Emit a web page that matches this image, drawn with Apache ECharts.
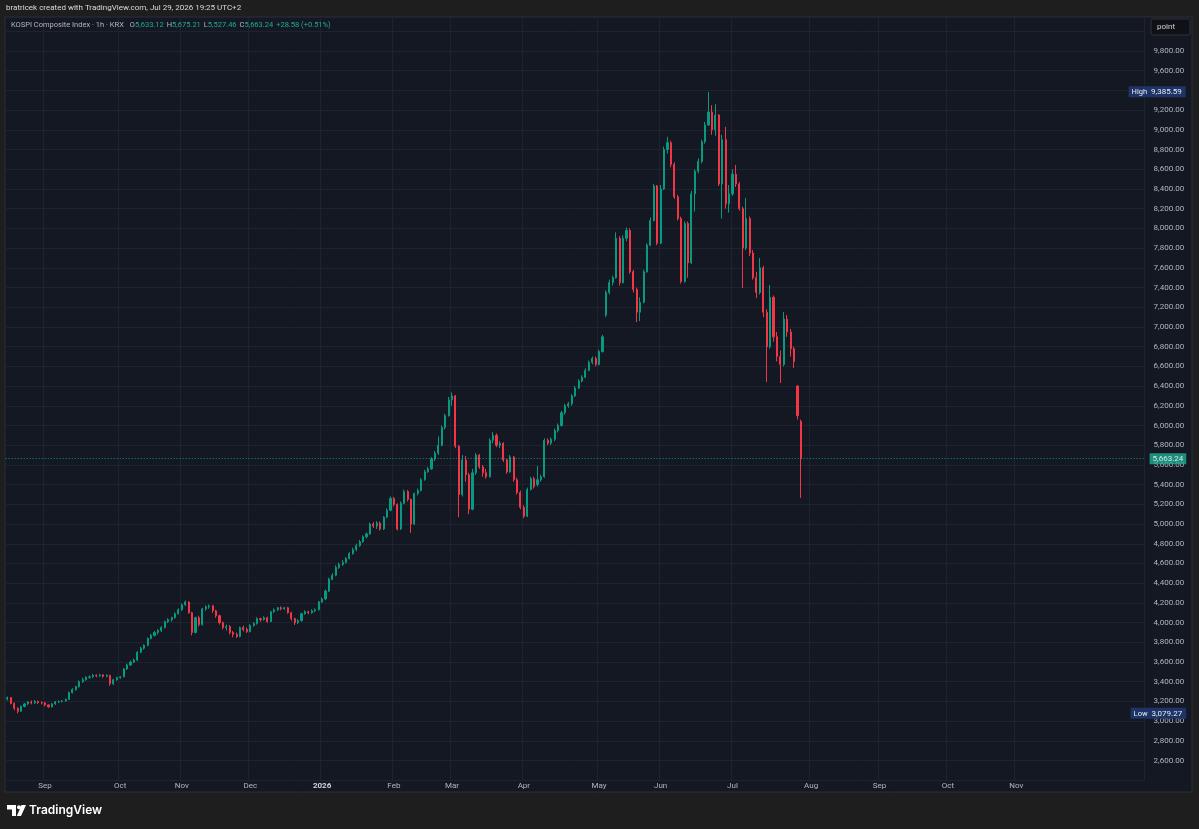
<!DOCTYPE html>
<html>
<head>
<meta charset="utf-8">
<script src="https://cdn.jsdelivr.net/npm/echarts@6.0.0/dist/echarts.min.js"></script>
<style>
html,body{margin:0;padding:0;background:#1e1e1e;}
#chart{width:1199px;height:829px;}
</style>
</head>
<body>
<div id="chart"></div>
<script>
// ---------- DATA ----------
const startDate = '2025-08-14';
const holidays = ['2025-08-15','2025-10-03','2025-10-06','2025-10-07','2025-10-08','2025-10-09',
  '2025-12-25','2025-12-31','2026-01-01','2026-02-16','2026-02-17','2026-02-18','2026-03-02',
  '2026-05-01','2026-05-05','2026-05-25','2026-06-03','2026-08-17','2026-09-24','2026-09-25',
  '2026-10-05','2026-10-09','2026-12-25'];
const totalSlots = 333;
const lastLabelMonth = '2026-11';
const monthNames = ['Jan','Feb','Mar','Apr','May','Jun','Jul','Aug','Sep','Oct','Nov','Dec'];

// daily candles: [open, close, low, high]
const ohlcAug2025 = [
  [3225,3240,3210,3250],[3240,3180,3170,3245],[3180,3130,3110,3190],[3130,3100,3079.27,3140],
  [3100,3150,3095,3160],[3150,3175,3140,3185],[3175,3195,3165,3205],[3195,3185,3170,3210],
  [3185,3200,3175,3215],[3200,3190,3175,3210],[3190,3185,3170,3200]
];
const ohlcSep2025 = [
  [3185,3165,3150,3195],[3165,3145,3135,3170],[3145,3175,3140,3185],[3175,3195,3165,3205],
  [3195,3200,3185,3210],[3200,3205,3190,3215],[3205,3220,3195,3230],[3220,3290,3215,3300],
  [3290,3320,3280,3335],[3320,3350,3310,3360],[3350,3400,3340,3415],[3400,3420,3390,3440],
  [3420,3445,3410,3455],[3445,3450,3430,3465],[3450,3465,3440,3480],[3465,3460,3445,3475],
  [3460,3470,3450,3480],[3470,3455,3440,3475],[3455,3465,3445,3475],[3465,3380,3360,3470],
  [3380,3420,3365,3430],[3420,3440,3410,3450]
];
const ohlcOct2025 = [
  [3440,3450,3430,3460],[3450,3530,3445,3540],[3530,3570,3520,3585],[3570,3600,3560,3615],
  [3600,3620,3590,3635],[3620,3700,3610,3710],[3700,3740,3690,3755],[3740,3770,3725,3780],
  [3770,3840,3760,3850],[3840,3870,3830,3885],[3870,3900,3860,3915],[3900,3920,3880,3935],
  [3920,3950,3905,3965],[3950,4010,3940,4020],[4010,4030,3995,4045],[4030,4050,4010,4060],
  [4050,4090,4040,4105],[4090,4130,4080,4145]
];
const ohlcNov2025 = [
  [4130,4180,4120,4195],[4180,4210,4170,4225],[4210,4100,4090,4215],[4100,3900,3870,4110],
  [3900,4050,3890,4060],[4050,3980,3960,4070],[3980,4140,3970,4150],[4140,4160,4120,4175],
  [4160,4170,4140,4185],[4170,4120,4100,4180],[4120,4070,4050,4130],[4070,4000,3980,4080],
  [4000,3950,3930,4010],[3950,3960,3920,3980],[3960,3900,3880,3975],[3900,3880,3850,3915],
  [3880,3860,3844,3900],[3860,3950,3850,3960],[3950,3930,3910,3970],[3930,3910,3895,3950]
];
const ohlcDec2025 = [
  [3910,3970,3900,3985],[3970,3990,3960,4005],[3990,4040,3980,4055],[4040,4030,4010,4050],
  [4030,4050,4020,4065],[4050,4010,4000,4060],[4010,4110,4005,4120],[4110,4130,4100,4145],
  [4130,4150,4120,4160],[4150,4140,4125,4165],[4140,4150,4130,4160],[4150,4100,4090,4160],
  [4100,4040,4020,4110],[4040,4000,3976,4050],[4000,4020,3985,4035],[4020,4090,4010,4100],
  [4090,4110,4080,4125],[4110,4100,4085,4120],[4100,4120,4090,4135],[4120,4130,4105,4145],
  [4130,4210,4125,4220]
];
const ohlcJan2026 = [
  [4210,4240,4200,4255],[4240,4320,4230,4335],[4320,4440,4310,4455],[4440,4480,4430,4500],
  [4480,4560,4470,4580],[4560,4590,4545,4610],[4590,4610,4575,4635],[4610,4650,4600,4665],
  [4650,4700,4640,4715],[4700,4740,4690,4760],[4740,4780,4725,4800],[4780,4820,4770,4840],
  [4820,4870,4810,4885],[4870,4900,4855,4915],[4900,5000,4890,5015],[5000,4980,4960,5020],
  [4980,5010,4950,5030],[5010,4950,4935,5025],[4950,5070,4940,5080],[5070,5140,5060,5160],
  [5140,5260,5130,5280]
];
const ohlcFeb2026 = [
  [5260,5200,5180,5275],[5200,4950,4935,5210],[4950,5210,4940,5230],[5210,5330,5200,5350],
  [5330,5250,5230,5345],[5250,5000,4910,5260],[5000,5310,4990,5320],[5310,5340,5290,5360],
  [5340,5450,5330,5465],[5450,5530,5440,5550],[5530,5560,5520,5580],[5560,5660,5550,5680],
  [5660,5720,5640,5740],[5720,5800,5700,5890],[5800,5980,5790,6000],[5980,6100,5960,6120],
  [6100,6260,6090,6290]
];
const ohlcMar2026 = [
  [6260,6300,6200,6335],[6300,5790,5770,6310],[5790,5300,5070,5800],[5300,5650,5280,5700],
  [5650,5500,5430,5690],[5500,5150,5100,5520],[5150,5520,5140,5560],[5520,5700,5500,5720],
  [5700,5580,5560,5710],[5580,5520,5480,5600],[5520,5480,5460,5560],[5480,5850,5470,5870],
  [5850,5900,5820,5935],[5900,5800,5780,5920],[5800,5820,5770,5840],[5820,5650,5630,5830],
  [5650,5530,5510,5660],[5530,5680,5520,5700],[5680,5450,5430,5690],[5450,5320,5300,5470],
  [5320,5170,5150,5340]
];
const ohlcApr2026 = [
  [5170,5080,5060,5190],[5080,5350,5070,5370],[5350,5460,5340,5480],[5460,5380,5360,5480],
  [5400,5450,5380,5590],[5450,5480,5430,5500],[5480,5850,5470,5870],[5850,5820,5800,5870],
  [5820,5860,5800,5880],[5860,5950,5840,5970],[5950,6000,5930,6020],[6000,6130,5990,6150],
  [6130,6200,6110,6220],[6200,6220,6180,6240],[6220,6300,6200,6320],[6300,6380,6290,6400],
  [6380,6450,6370,6470],[6450,6490,6440,6510],[6490,6560,6480,6580],[6560,6640,6550,6660],
  [6640,6680,6620,6700],[6680,6620,6600,6700]
];
const ohlcMay2026 = [
  [6620,6750,6610,6770],[6750,6900,6740,6920],[7120,7350,7100,7370],[7350,7450,7330,7480],
  [7450,7500,7420,7520],[7500,7900,7490,7960],[7900,7450,7420,7920],[7450,7900,7440,7930],
  [7900,7980,7870,8010],[7980,7560,7540,8000],[7560,7380,7350,7580],[7380,7150,7050,7400],
  [7150,7250,7060,7300],[7250,7560,7240,7580],[7560,7830,7550,7850],[7830,8080,7820,8110],
  [8080,8430,8070,8450],[8430,7850,7830,8440]
];
const ohlcJun2026 = [
  [7850,8400,7840,8440],[8400,8800,8390,8830],[8800,8870,8760,8930],[8870,8650,8620,8890],
  [8650,8320,8300,8670],[8320,8100,8080,8340],[8100,7460,7440,8120],[7460,8050,7450,8070],
  [8050,7650,7500,8070],[7650,8350,7640,8380],[8350,8580,8170,8600],[8580,8680,8560,8710],
  [8680,8880,8660,8900],[8880,9050,8860,9080],[9050,9180,9040,9385.59],[9180,9000,8950,9250],
  [9000,9150,8940,9260],[9150,8450,8430,9160],[8450,8900,8100,8950],[8900,8250,8200,9030],
  [8250,8350,8160,8440]
];
const ohlcJul2026 = [
  [8350,8550,8330,8600],[8550,8450,8420,8643],[8450,8200,8180,8470],[8200,7800,7395,8220],
  [7800,8100,7780,8308],[8100,7750,7720,8120],[7750,7500,7480,7780],[7500,7350,7294,7560],
  [7350,7600,7330,7700],[7600,7150,7100,7620],[7150,6800,6441,7180],[6800,7300,6780,7426],
  [7300,6900,6850,7320],[6900,6700,6650,6950],[6700,6620,6431,6760],[6620,7080,6600,7152],
  [7080,6950,6900,7120],[6950,6780,6700,6980],[6780,6650,6584,6800],[6400,6100,6060,6411],
  [6040,5663.24,5265,6060]
];

const yTickLabels = {min: 2600, max: 9800};
const yAxisMin = 2400, yAxisMax = 10145, yInterval = 200;

const headerText = 'bratricek created with TradingView.com, Jul 29, 2026 19:25 UTC+2';
const symbolText = 'KOSPI Composite Index · 1h · KRX';
const lastBar = {o: '5,633.12', h: '5,675.21', l: '5,527.46', c: '5,663.24', chg: '+28.58 (+0.51%)'};

// ---------- BUILD ----------
function buildCategories() {
  const out = [];
  const d = new Date(startDate + 'T00:00:00Z');
  while (out.length < totalSlots) {
    const dow = d.getUTCDay();
    const s = d.toISOString().slice(0, 10);
    if (dow !== 0 && dow !== 6 && holidays.indexOf(s) < 0) out.push(s);
    d.setUTCDate(d.getUTCDate() + 1);
  }
  return out;
}
const categories = buildCategories();
const ohlc = [].concat(ohlcAug2025, ohlcSep2025, ohlcOct2025, ohlcNov2025, ohlcDec2025,
  ohlcJan2026, ohlcFeb2026, ohlcMar2026, ohlcApr2026, ohlcMay2026, ohlcJun2026, ohlcJul2026);

const lastClose = ohlc[ohlc.length - 1][1];
const highVal = Math.max.apply(null, ohlc.map(d => d[3]));
const lowVal = Math.min.apply(null, ohlc.map(d => d[2]));

const fmt = v => v.toLocaleString('en-US', {minimumFractionDigits: 2, maximumFractionDigits: 2});
const isMonthStart = idx => idx > 0 && categories[idx].slice(0, 7) !== categories[idx - 1].slice(0, 7);
const isLabelled = idx => isMonthStart(idx) && categories[idx].slice(0, 7) <= lastLabelMonth;

const FONT = 'Roboto, "Noto Sans", sans-serif';
const outerBg = '#1e1e1e';
const paneBg = '#141823';
const gridColor = '#1f2330';
const textColor = '#b2b5be';
const upColor = '#089981';
const downColor = '#f23645';
const tealText = '#22ab94';
const navy = '#1e3466';

const chart = echarts.init(document.getElementById('chart'), null, {renderer: 'canvas'});
chart.setOption({
  animation: false,
  backgroundColor: outerBg,
  textStyle: {fontFamily: FONT},
  grid: {left: 5.7, right: 54.4, top: 17, bottom: 48.7, containLabel: false},
  xAxis: {
    type: 'category',
    data: categories,
    boundaryGap: true,
    axisLine: {show: false},
    axisTick: {show: false},
    splitLine: {show: true, interval: (idx) => isLabelled(idx), lineStyle: {color: gridColor, width: 1}},
    axisLabel: {
      interval: (idx) => isLabelled(idx),
      margin: 2,
      color: textColor,
      fontSize: 8,
      formatter: (val) => {
        const m = +val.slice(5, 7);
        return m === 1 ? '{y|' + val.slice(0, 4) + '}' : monthNames[m - 1];
      },
      rich: {y: {fontSize: 8, fontWeight: 'bold', color: '#d1d4dc'}}
    }
  },
  yAxis: {
    type: 'value',
    position: 'right',
    min: yAxisMin,
    max: yAxisMax,
    interval: yInterval,
    scale: false,
    axisLine: {show: false},
    axisTick: {show: false},
    splitLine: {show: true, lineStyle: {color: gridColor, width: 1}},
    axisLabel: {
      margin: 9,
      color: textColor,
      fontSize: 8,
      formatter: (v) => (v < yTickLabels.min || v > yTickLabels.max) ? '' : fmt(v)
    }
  },
  series: [{
    type: 'candlestick',
    data: ohlc,
    barWidth: 1.6,
    large: false,
    itemStyle: {color: upColor, color0: downColor, borderColor: upColor, borderColor0: downColor, borderWidth: 1},
    markLine: {
      silent: true,
      symbol: ['none', 'none'],
      animation: false,
      data: [
        {
          yAxis: lastClose,
          lineStyle: {color: tealText, type: [1, 2], width: 1, opacity: 0.8},
          label: {show: true, position: 'end', distance: 5, formatter: () => fmt(lastClose),
            backgroundColor: tealText, color: '#ffffff', fontSize: 8, padding: [2, 3, 1, 3]}
        },
        {
          yAxis: highVal,
          lineStyle: {color: 'rgba(0,0,0,0)', width: 1},
          label: {show: true, position: 'end', distance: 0, offset: [-16, 0], opacity: 1,
            formatter: () => '{a|High}  ' + fmt(highVal),
            backgroundColor: navy, color: '#e8eaf0', fontSize: 8, padding: [2, 4, 1, 3],
            rich: {a: {fontSize: 7.5, color: '#e8eaf0'}}}
        },
        {
          yAxis: lowVal,
          lineStyle: {color: 'rgba(0,0,0,0)', width: 1},
          label: {show: true, position: 'end', distance: 0, offset: [-14, 0], opacity: 1,
            formatter: () => '{a|Low}  ' + fmt(lowVal),
            backgroundColor: navy, color: '#e8eaf0', fontSize: 8, padding: [2, 4, 1, 3],
            rich: {a: {fontSize: 7.5, color: '#e8eaf0'}}}
        }
      ]
    }
  }],
  graphic: [
    {type: 'rect', z: -10, silent: true, shape: {x: 5, y: 17, width: 1187, height: 775},
      style: {fill: paneBg, stroke: '#2a2e39', lineWidth: 1}},
    {type: 'text', x: 6, y: 8, silent: true,
      style: {text: headerText, fill: '#d9dbe0', fontSize: 8, fontWeight: 'normal', fontFamily: FONT, verticalAlign: 'middle'}},
    {type: 'text', x: 11, y: 25, silent: true, z: 10,
      style: {
        text: '{n|' + symbolText + '}  {n|O}{v|' + lastBar.o + '} {n|H}{v|' + lastBar.h + '} {n|L}{v|' + lastBar.l +
          '} {n|C}{v|' + lastBar.c + '} {v|' + lastBar.chg + '}',
        verticalAlign: 'middle', fontFamily: FONT,
        rich: {n: {fill: '#b2b5be', color: '#b2b5be', fontSize: 7.5, fontFamily: FONT},
               v: {fill: tealText, color: tealText, fontSize: 7.5, fontFamily: FONT}}
      }},
    {type: 'rect', z: 10, silent: true, shape: {x: 1151, y: 19, width: 39, height: 16, r: 2},
      style: {fill: '#0f1117', stroke: '#2f333e', lineWidth: 1}},
    {type: 'text', x: 1157, y: 27, z: 11, silent: true,
      style: {text: 'point', fill: '#d1d4dc', fontSize: 8, fontFamily: FONT, verticalAlign: 'middle'}},
    // TradingView logo
    {type: 'polygon', silent: true, shape: {points: [[7, 805], [16, 805], [16, 816], [12, 816], [12, 809.5], [7, 809.5]]},
      style: {fill: '#ffffff'}},
    {type: 'circle', silent: true, shape: {cx: 19, cy: 807.3, r: 2}, style: {fill: '#ffffff'}},
    {type: 'polygon', silent: true, shape: {points: [[21.5, 805], [26, 805], [21, 816], [16.8, 816]]},
      style: {fill: '#ffffff'}},
    {type: 'text', x: 29, y: 810.5, silent: true,
      style: {text: 'TradingView', fill: '#ffffff', fontSize: 12, fontWeight: 600, fontFamily: 'Inter, Roboto, sans-serif', verticalAlign: 'middle'}}
  ]
});
</script>
</body>
</html>
